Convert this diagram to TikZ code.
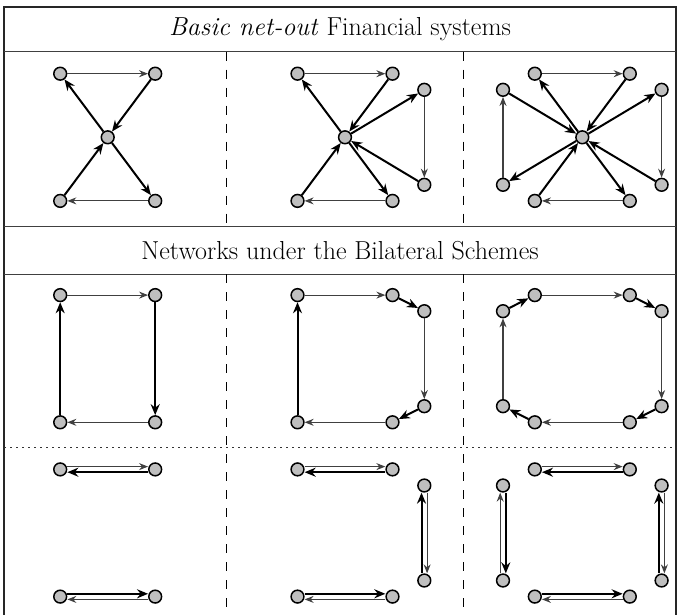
\documentclass[tikz,border=0pt]{standalone}
\usepackage{fontspec}
\usetikzlibrary{arrows.meta}
\begin{document}
\begin{tikzpicture}[x=1pt,y=-1pt,
  vtx/.style={circle,draw=black,line width=1.5pt,fill=gray!50,minimum size=12.8pt,inner sep=0pt},
  thinE/.style={draw=black!75,line width=1.1pt,-{Stealth[length=9pt,width=7pt,inset=3pt]}},
  thickE/.style={draw=black,line width=2pt,-{Stealth[length=11pt,width=9pt,inset=3.6pt]}},
  frame/.style={draw=black!85,line width=1.6pt},
  rule/.style={draw=black!75,line width=1pt},
  vdash/.style={draw=black,line width=1pt,dash pattern=on 9pt off 9pt},
  vdot/.style={draw=black!80,line width=1pt,dash pattern=on 1.5pt off 4.5pt},
  title/.style={font=\fontsize{26}{31}\selectfont,inner sep=0pt}]
\useasboundingbox (0,0) rectangle (677,615);
% frame and rules
\draw[frame] (4,615) -- (4,7) -- (676,7) -- (676,615);
\draw[rule] (4,51.7) -- (676,51.7);
\draw[rule] (4,226.4) -- (676,226.4);
\draw[rule] (4,274) -- (676,274);
\draw[vdot] (4,447.7) -- (676,447.7);
\draw[vdash] (226.4,51.7) -- (226.4,226.4);
\draw[vdash] (463.7,51.7) -- (463.7,226.4);
\draw[vdash] (226.4,274) -- (226.4,615);
\draw[vdash] (463.7,274) -- (463.7,615);
% titles
\node[title] (t1) at (340,29.4) {\textit{Basic net-out} Financial systems};
\node[title] (t2) at (340,250.5) {Networks under the Bilateral Schemes};

% ---------- Row 1 ----------
\begin{scope}[shift={(107.7,137.3)}]
\node[vtx] (A-tl) at (-47.5,-63.6) {};
\node[vtx] (A-tr) at (47.5,-63.6) {};
\node[vtx] (A-c) at (0,0) {};
\node[vtx] (A-bl) at (-47.5,63.6) {};
\node[vtx] (A-br) at (47.5,63.6) {};
\end{scope}
\draw[thinE] (A-tl) -- (A-tr);
\draw[thickE] (A-tr) -- (A-c);
\draw[thickE] (A-c) -- (A-tl);
\draw[thickE] (A-c) -- (A-br);
\draw[thickE] (A-bl) -- (A-c);
\draw[thinE] (A-br) -- (A-bl);

\begin{scope}[shift={(345,137.3)}]
\node[vtx] (B-tl) at (-47.5,-63.6) {};
\node[vtx] (B-tr) at (47.5,-63.6) {};
\node[vtx] (B-ru) at (79.3,-47.5) {};
\node[vtx] (B-rl) at (79.3,47.5) {};
\node[vtx] (B-c) at (0,0) {};
\node[vtx] (B-bl) at (-47.5,63.6) {};
\node[vtx] (B-br) at (47.5,63.6) {};
\end{scope}
\draw[thinE] (B-tl) -- (B-tr);
\draw[thickE] (B-tr) -- (B-c);
\draw[thickE] (B-c) -- (B-tl);
\draw[thickE] (B-c) -- (B-ru);
\draw[thinE] (B-ru) -- (B-rl);
\draw[thickE] (B-rl) -- (B-c);
\draw[thickE] (B-c) -- (B-br);
\draw[thickE] (B-bl) -- (B-c);
\draw[thinE] (B-br) -- (B-bl);

\begin{scope}[shift={(582.3,137.3)}]
\node[vtx] (C-tl) at (-47.5,-63.6) {};
\node[vtx] (C-tr) at (47.5,-63.6) {};
\node[vtx] (C-ru) at (79.3,-47.5) {};
\node[vtx] (C-rl) at (79.3,47.5) {};
\node[vtx] (C-lu) at (-79.3,-47.5) {};
\node[vtx] (C-ll) at (-79.3,47.5) {};
\node[vtx] (C-c) at (0,0) {};
\node[vtx] (C-bl) at (-47.5,63.6) {};
\node[vtx] (C-br) at (47.5,63.6) {};
\end{scope}
\draw[thinE] (C-tl) -- (C-tr);
\draw[thickE] (C-tr) -- (C-c);
\draw[thickE] (C-c) -- (C-tl);
\draw[thickE] (C-c) -- (C-ru);
\draw[thinE] (C-ru) -- (C-rl);
\draw[thickE] (C-rl) -- (C-c);
\draw[thickE] (C-c) -- (C-br);
\draw[thickE] (C-bl) -- (C-c);
\draw[thinE] (C-br) -- (C-bl);
\draw[thickE] (C-lu) -- (C-c);
\draw[thickE] (C-c) -- (C-ll);
\draw[thinE] (C-ll) -- (C-lu);

% ---------- Row 2 ----------
\begin{scope}[shift={(107.7,358.7)}]
\node[vtx] (D-tl) at (-47.5,-63.6) {};
\node[vtx] (D-tr) at (47.5,-63.6) {};
\node[vtx] (D-bl) at (-47.5,63.6) {};
\node[vtx] (D-br) at (47.5,63.6) {};
\end{scope}
\draw[thinE] (D-tl) -- (D-tr);
\draw[thickE] (D-tr) -- (D-br);
\draw[thinE] (D-br) -- (D-bl);
\draw[thickE] (D-bl) -- (D-tl);

\begin{scope}[shift={(345,358.7)}]
\node[vtx] (E-tl) at (-47.5,-63.6) {};
\node[vtx] (E-tr) at (47.5,-63.6) {};
\node[vtx] (E-ru) at (79.3,-47.5) {};
\node[vtx] (E-rl) at (79.3,47.5) {};
\node[vtx] (E-bl) at (-47.5,63.6) {};
\node[vtx] (E-br) at (47.5,63.6) {};
\end{scope}
\draw[thinE] (E-tl) -- (E-tr);
\draw[thickE] (E-tr) -- (E-ru);
\draw[thinE] (E-ru) -- (E-rl);
\draw[thickE] (E-rl) -- (E-br);
\draw[thinE] (E-br) -- (E-bl);
\draw[thickE] (E-bl) -- (E-tl);

\begin{scope}[shift={(582.3,358.7)}]
\node[vtx] (F-tl) at (-47.5,-63.6) {};
\node[vtx] (F-tr) at (47.5,-63.6) {};
\node[vtx] (F-ru) at (79.3,-47.5) {};
\node[vtx] (F-rl) at (79.3,47.5) {};
\node[vtx] (F-lu) at (-79.3,-47.5) {};
\node[vtx] (F-ll) at (-79.3,47.5) {};
\node[vtx] (F-bl) at (-47.5,63.6) {};
\node[vtx] (F-br) at (47.5,63.6) {};
\end{scope}
\draw[thinE] (F-tl) -- (F-tr);
\draw[thickE] (F-tr) -- (F-ru);
\draw[thinE] (F-ru) -- (F-rl);
\draw[thickE] (F-rl) -- (F-br);
\draw[thinE] (F-br) -- (F-bl);
\draw[thickE] (F-bl) -- (F-ll);
\draw[thinE] (F-ll) -- (F-lu);
\draw[thickE] (F-lu) -- (F-tl);

% ---------- Row 3 ----------
\begin{scope}[shift={(107.7,533)}]
\node[vtx] (G-tl) at (-47.5,-63.6) {};
\node[vtx] (G-tr) at (47.5,-63.6) {};
\node[vtx] (G-bl) at (-47.5,63.6) {};
\node[vtx] (G-br) at (47.5,63.6) {};
\end{scope}
\draw[thinE,transform canvas={yshift=2.8pt}] (G-tl) -- (G-tr);
\draw[thickE,transform canvas={yshift=-2.8pt}] (G-tr) -- (G-tl);
\draw[thickE,transform canvas={yshift=2.8pt}] (G-bl) -- (G-br);
\draw[thinE,transform canvas={yshift=-2.8pt}] (G-br) -- (G-bl);

\begin{scope}[shift={(345,533)}]
\node[vtx] (H-tl) at (-47.5,-63.6) {};
\node[vtx] (H-tr) at (47.5,-63.6) {};
\node[vtx] (H-ru) at (79.3,-47.5) {};
\node[vtx] (H-rl) at (79.3,47.5) {};
\node[vtx] (H-bl) at (-47.5,63.6) {};
\node[vtx] (H-br) at (47.5,63.6) {};
\end{scope}
\draw[thinE,transform canvas={yshift=2.8pt}] (H-tl) -- (H-tr);
\draw[thickE,transform canvas={yshift=-2.8pt}] (H-tr) -- (H-tl);
\draw[thickE,transform canvas={xshift=-2.8pt}] (H-rl) -- (H-ru);
\draw[thinE,transform canvas={xshift=2.8pt}] (H-ru) -- (H-rl);
\draw[thickE,transform canvas={yshift=2.8pt}] (H-bl) -- (H-br);
\draw[thinE,transform canvas={yshift=-2.8pt}] (H-br) -- (H-bl);

\begin{scope}[shift={(582.3,533)}]
\node[vtx] (I-tl) at (-47.5,-63.6) {};
\node[vtx] (I-tr) at (47.5,-63.6) {};
\node[vtx] (I-ru) at (79.3,-47.5) {};
\node[vtx] (I-rl) at (79.3,47.5) {};
\node[vtx] (I-lu) at (-79.3,-47.5) {};
\node[vtx] (I-ll) at (-79.3,47.5) {};
\node[vtx] (I-bl) at (-47.5,63.6) {};
\node[vtx] (I-br) at (47.5,63.6) {};
\end{scope}
\draw[thinE,transform canvas={yshift=2.8pt}] (I-tl) -- (I-tr);
\draw[thickE,transform canvas={yshift=-2.8pt}] (I-tr) -- (I-tl);
\draw[thinE,transform canvas={xshift=-2.8pt}] (I-ll) -- (I-lu);
\draw[thickE,transform canvas={xshift=2.8pt}] (I-lu) -- (I-ll);
\draw[thickE,transform canvas={xshift=-2.8pt}] (I-rl) -- (I-ru);
\draw[thinE,transform canvas={xshift=2.8pt}] (I-ru) -- (I-rl);
\draw[thickE,transform canvas={yshift=2.8pt}] (I-bl) -- (I-br);
\draw[thinE,transform canvas={yshift=-2.8pt}] (I-br) -- (I-bl);
\end{tikzpicture}
\end{document}
